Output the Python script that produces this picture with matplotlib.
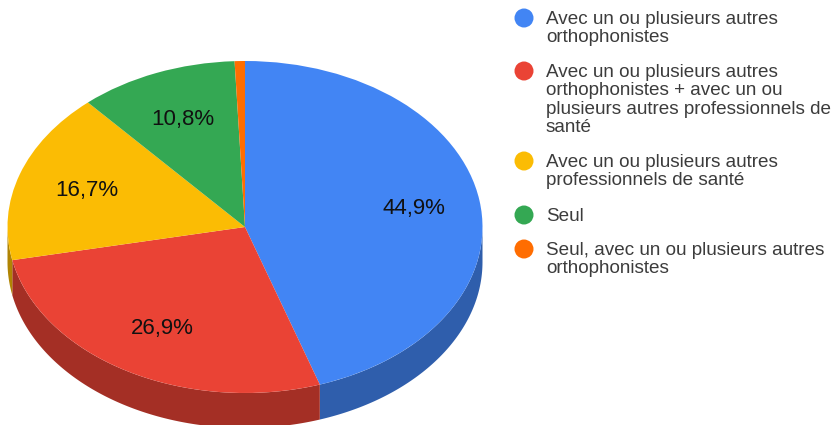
import numpy as np
import matplotlib
matplotlib.use('Agg')
import matplotlib.pyplot as plt

labels = ['Avec un ou plusieurs autres\northophonistes',
          'Avec un ou plusieurs autres\northophonistes + avec un ou\nplusieurs autres professionnels de\nsanté',
          'Avec un ou plusieurs autres\nprofessionnels de santé',
          'Seul',
          'Seul, avec un ou plusieurs autres\northophonistes']
values = [44.9, 26.9, 16.7, 10.8, 0.7]
colors = ['#4285f4', '#ea4335', '#fbbc04', '#34a853', '#ff6d01']
side_colors = ['#2f5eac', '#a42f25', '#b08403', '#24763a', '#b34c01']
legend_y = [18, 71, 161, 215, 249]  # centre of first line, pixels

W, H = 833, 425
cx, cy, rx, ry, depth = 245, 227, 237.5, 166, 35

plt.rcParams['font.family'] = ['Liberation Sans', 'DejaVu Sans']
fig = plt.figure(figsize=(W / 100, H / 100), dpi=100)
ax = fig.add_axes([0, 0, 1, 1])

wedges, texts, autotexts = ax.pie(values, colors=colors, startangle=90, counterclock=False,
                                  radius=1, pctdistance=0.72, labeldistance=None,
                                  autopct=lambda p: f'{p:.1f}%'.replace('.', ',') if p > 5 else '',
                                  textprops={'fontsize': 16, 'color': '#111111'})
for w in wedges:
    w.set_zorder(3)
    w.set_linewidth(0)

# small nudges of the percent labels, in pixels
nudge_x = [0, 3, 4, 2, 0]
nudge_y = [1, -2, 2, 3, 0]
for t, nx, ny in zip(autotexts, nudge_x, nudge_y):
    t.set_zorder(4)
    px, py = t.get_position()
    t.set_position((px + nx / rx, py - ny / ry))

# side of the 3d pie, only the front half can be seen
d = depth / ry
edges = 90 - np.cumsum([0] + values) * 3.6
for i in range(len(values)):
    a0, a1 = edges[i], edges[i + 1]
    ang = np.radians(np.linspace(a0, a1, 200))
    ang = ang[np.sin(ang) <= 0]
    if len(ang) < 2:
        continue
    x = np.cos(ang)
    y = np.sin(ang)
    ax.fill(np.r_[x, x[::-1]], np.r_[y, y[::-1] - d], color=side_colors[i], lw=0, zorder=2)

ax.set_aspect('auto')
ax.set_xlim(-cx / rx, (W - cx) / rx)
ax.set_ylim((cy - H) / ry, cy / ry)
ax.axis('off')

# legend by hand, in figure pixels
for i, lab in enumerate(labels):
    fig.text(546 / W, 1 - (legend_y[i] - 7) / H, lab, fontsize=13.6, color='#3c3c3c',
             va='top', ha='left', linespacing=1.1)
    fig.add_artist(plt.Circle((524, H - legend_y[i]), 9.5, color=colors[i], lw=0, transform=None))

fig.savefig('out.png', dpi=100)
